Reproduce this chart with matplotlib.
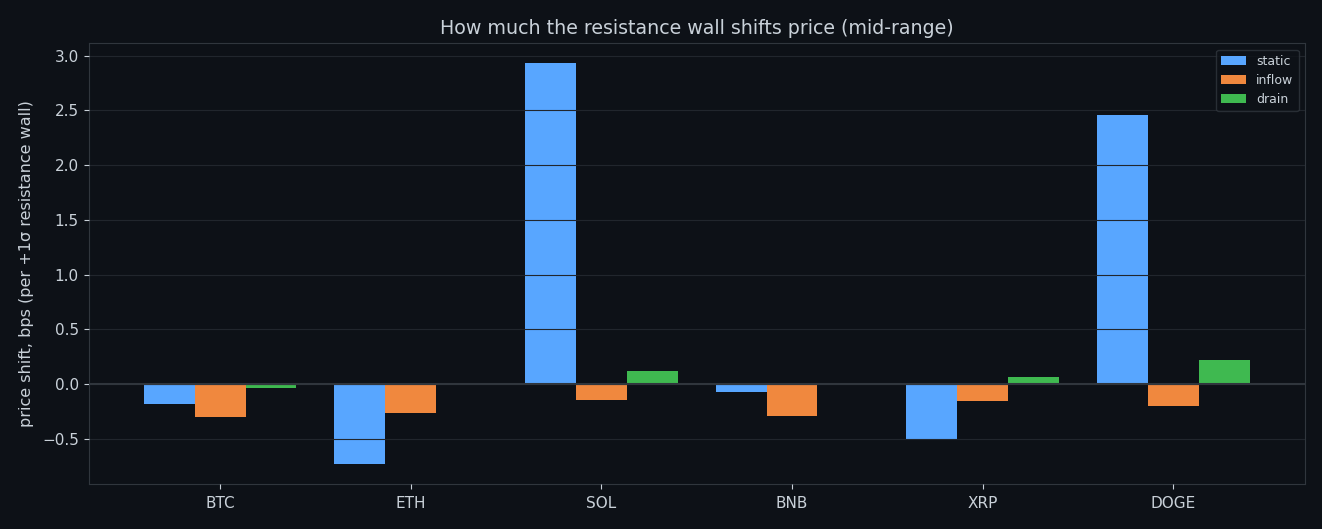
import numpy as np
import matplotlib
matplotlib.use("Agg")
import matplotlib.pyplot as plt

BG = "#0d1117"; FG = "#c9d1d9"; GRID = "#21262d"; EDGE = "#30363d"

coins = ["BTC", "ETH", "SOL", "BNB", "XRP", "DOGE"]
static = [-0.18, -0.73, 2.93, -0.07, -0.50, 2.46]
inflow = [-0.30, -0.265, -0.146, -0.29, -0.155, -0.20]
drain = [-0.035, -0.004, 0.12, 0.002, 0.064, 0.22]

series = [("static", static, "#58a6ff"), ("inflow", inflow, "#f0883e"), ("drain", drain, "#3fb950")]

fig, ax = plt.subplots(figsize=(13.22, 5.29), dpi=100)
fig.patch.set_facecolor(BG); ax.set_facecolor(BG)
x = np.arange(len(coins)); w = 0.8 / 3
for i, (name, vals, c) in enumerate(series):
    ax.bar(x + (i - 1) * w, vals, w, color=c, label=name, zorder=1)
ax.axhline(0, color=EDGE, lw=1.5, zorder=3)
ax.yaxis.grid(True, color=GRID, lw=0.8, zorder=2)
ax.set_axisbelow(False)
ax.set_xticks(x); ax.set_xticklabels(coins)
ax.set_ylabel("price shift, bps (per +1σ resistance wall)", color=FG, fontsize=11.5, labelpad=6)
ax.set_title("How much the resistance wall shifts price (mid-range)", color=FG, fontsize=13.7, pad=7)
ax.tick_params(colors=FG, labelsize=11)
ax.tick_params(axis="x", pad=5)
for s in ax.spines.values(): s.set_color(EDGE)
leg = ax.legend(loc="upper right", fontsize=9, facecolor=BG, edgecolor=EDGE)
for t in leg.get_texts(): t.set_color(FG)
plt.subplots_adjust(left=0.067, right=0.987, top=0.918, bottom=0.085)
plt.savefig("out.png", dpi=100, facecolor=BG)
